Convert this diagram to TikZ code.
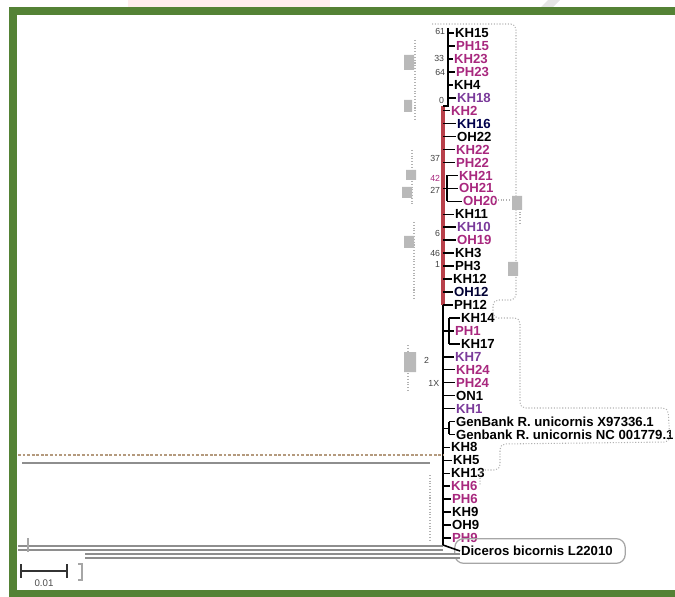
\documentclass[tikz,border=0pt]{standalone}
\usepackage{fontspec}
\setmainfont{Liberation Sans}
\usetikzlibrary{positioning,calc}
\definecolor{framegreen}{HTML}{548235}
\definecolor{tipmag}{HTML}{A8287E}
\definecolor{tippurple}{HTML}{7A3A9A}
\definecolor{cladered}{HTML}{B8404A}
\definecolor{branchgray}{HTML}{8E8E8E}
\definecolor{dotbrown}{HTML}{B49A7E}

\begin{document}
\begin{tikzpicture}[x=0.02cm, y=-0.02cm,
  tip/.style={anchor=west, inner sep=0.4pt, font=\fontsize{7.5}{8}\selectfont\bfseries},
  boot/.style={anchor=east, inner sep=0.3pt, font=\fontsize{5}{5}\selectfont, text=black!75},
  branch/.style={line width=0.9pt},
  longbranch/.style={draw=branchgray, double=white, double distance=1.2pt, line width=0.9pt},
  noise/.style={draw=gray!60, densely dotted, line width=0.6pt}]
\useasboundingbox (0,0) rectangle (675,597);
% faint marks above the frame
\fill[red!7] (128,0) rectangle (330,7);
\fill[gray!20] (548,0) -- (560,0) -- (553,7) -- (541,7) -- cycle;
% frame
\fill[framegreen] (9,7) rectangle (675,15);
\fill[framegreen] (9,7) rectangle (17,597);
\fill[framegreen] (9,590) rectangle (675,597);

% tips
\foreach \name/\lab/\col/\dx [count=\i from 0] in {
  kha/KH15/black/4, pha/PH15/tipmag/5, khb/KH23/tipmag/3, phb/PH23/tipmag/5,
  khc/KH4/black/3, khd/KH18/tippurple/6, khe/KH2/tipmag/0, khf/KH16/black!70!blue/6,
  oha/OH22/black/6, khg/KH22/tipmag/5, phc/PH22/tipmag/5, khh/KH21/tipmag/8,
  ohb/OH21/tipmag/8, ohc/OH20/tipmag/12, khi/KH11/black/4, khj/KH10/tippurple/6,
  ohd/OH19/tipmag/6, khk/KH3/black/4, phd/PH3/black/4, khl/KH12/black/2,
  ohe/OH12/black!80!blue/3, phe/PH12/black/3, khm/KH14/black/10, phf/PH1/tipmag/4,
  khn/KH17/black/10, kho/KH7/tippurple/4, khp/KH24/tipmag/5, phg/PH24/tipmag/5,
  ona/ON1/black/5, khq/KH1/tippurple/5,
  gba/GenBank R. unicornis X97336.1/black/5,
  gbb/Genbank R. unicornis NC 001779.1/black/5,
  khr/KH8/black/0, khs/KH5/black/2, kht/KH13/black/0, khu/KH6/tipmag/0,
  phh/PH6/tipmag/1, khv/KH9/black/1, ohf/OH9/black/1, phi/PH9/tipmag/1}
  \node[tip, text=\col] (\name) at (450+\dx, 33+12.95*\i) {\lab};
\node[tip] (dic) at (460,551) {Diceros bicornis L22010};

% noise outlines around the labels
\draw[noise, rounded corners=3pt] (432,24) -- (516,24) -- (516,300) -- (493,300) -- (493,318)
  -- (520,318) -- (520,408) -- (668,408) -- (670,442) -- (500,444) -- (500,470) -- (480,470)
  -- (480,485);
\draw[noise] (415,40) -- (415,120) (412,150) -- (412,205) (414,222) -- (414,300)
  (408,345) -- (408,392) (430,475) -- (430,540) (495,200) -- (520,200) -- (520,225);
\fill[gray!55] (404,55) rectangle (414,70) (404,100) rectangle (412,112)
  (406,170) rectangle (416,180) (402,187) rectangle (412,198) (404,236) rectangle (414,248)
  (404,352) rectangle (416,372) (508,262) rectangle (518,276) (512,196) rectangle (522,210);
\node[draw=gray!70, rounded corners=5pt, minimum width=97pt, minimum height=14pt,
  line width=0.7pt] (dicbox) at (540,551) {};

% spine and clades
\coordinate (spine) at (443,106);
\coordinate (spineend) at (443,545);
\coordinate (cladeA) at (448,28);
\coordinate (cladeB) at (447,0);
\coordinate (cladeC) at (449,0);
\draw[branch] (spine) -- (spineend);
\draw[cladered, line width=2.2pt] (spine) -- (spine |- phe.west);
\draw[branch] (cladeA) -- (cladeA |- spine) -- (spine);
\foreach \name in {kha,pha,khb,phb,khc,khd}
  \draw[branch] (cladeA |- \name.west) -- (\name.west);
\foreach \name in {khe,khf,oha,khg,phc,khi,khj,ohd,khk,phd,khl,ohe,phe,phf,kho,khp,phg,ona,khq,
  khr,khs,kht,khu,phh,khv,ohf,phi}
  \draw[branch] (spine |- \name.west) -- (\name.west);
\draw[branch] (cladeB |- khh.west) -- (cladeB |- ohc.west);
\draw[branch] (spine |- ohb.west) -- (cladeB |- ohb.west);
\foreach \name in {khh,ohb,ohc}
  \draw[branch] (cladeB |- \name.west) -- (\name.west);
\draw[branch] (cladeC |- khm.west) -- (cladeC |- khn.west);
\draw[branch] (spine |- phf.west) -- (cladeC |- phf.west);
\foreach \name in {khm,khn}
  \draw[branch] (cladeC |- \name.west) -- (\name.west);
\draw[branch] (cladeC |- gba.west) -- (cladeC |- gbb.west);
\draw[branch] ($(spine |- gba.west)+(0,7)$) -- ++(6,0);
\foreach \name in {gba,gbb}
  \draw[branch] (cladeC |- \name.west) -- (\name.west);

% bootstrap values
\node[boot] (b61) at (446,31) {61};
\node[boot] (b33) at (445,58) {33};
\node[boot] (b64) at (446,72) {64};
\node[boot] (b0) at (445,100) {0};
\node[boot] (b37) at (441,158) {37};
\node[boot, text=tipmag] (b42) at (441,178) {42};
\node[boot] (b27) at (441,190) {27};
\node[boot] (b6) at (441,233) {6};
\node[boot] (b46) at (441,253) {46};
\node[boot] (b1) at (441,264) {1};
\node[boot] (b2) at (430,360) {2};
\node[boot] (b1x) at (440,383) {1X};

% long outgroup branches
\coordinate (outa) at (18,455);
\coordinate (outb) at (22,463);
\coordinate (outbend) at (430,463);
\coordinate (outc) at (18,548);
\coordinate (outd) at (85,556);
\draw[dotbrown, densely dotted, line width=1.6pt] (outa) -- (spine |- outa);
\draw[branchgray, line width=1.6pt] (outb) -- (outbend);
\draw[longbranch] (outc) -- (spine |- outc);
\draw[longbranch] (outd) -- (dic.west |- outd);
\draw[branch] (spineend) -- (dic.west);
\draw[gray!70, line width=0.6pt] (28,538) -- (28,552);

% scale bar
\coordinate (sca) at (20,571);
\coordinate (scb) at (68,571);
\draw[black!80, line width=1pt, |-|] (sca) -- (scb);
\node[font=\fontsize{5.5}{6}\selectfont, text=black!70] (scl) at (44,583) {0.01};
\draw[gray!70, line width=1pt] (78,564) -- (82,564) -- (82,580) -- (78,580);
\end{tikzpicture}
\end{document}
